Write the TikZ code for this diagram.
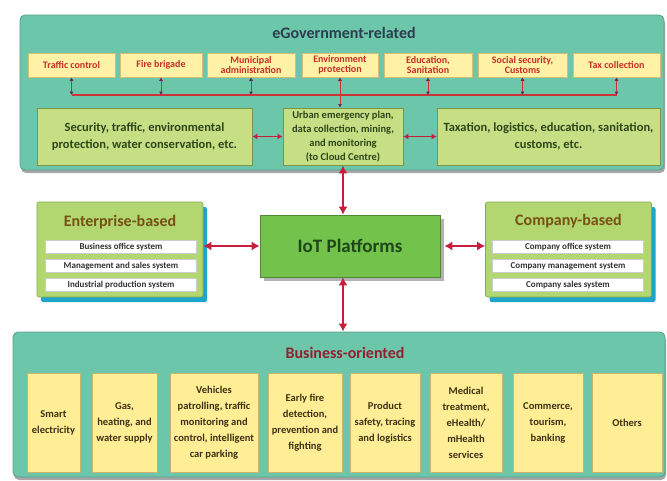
\documentclass[tikz,border=0pt]{standalone}
\usepackage{fontspec}
\setmainfont{Carlito}
\usetikzlibrary{arrows.meta,shadows}

\definecolor{panelteal}{RGB}{108,198,170}
\definecolor{panelline}{RGB}{85,160,140}
\definecolor{tabyellow}{RGB}{255,241,165}
\definecolor{tabline}{RGB}{215,190,120}
\definecolor{tabred}{RGB}{200,45,40}
\definecolor{areagreen}{RGB}{198,222,132}
\definecolor{arealine}{RGB}{120,150,70}
\definecolor{areatext}{RGB}{45,70,25}
\definecolor{sidegreen}{RGB}{178,214,112}
\definecolor{sideline}{RGB}{130,170,80}
\definecolor{sidecyan}{RGB}{30,165,205}
\definecolor{iotgreen}{RGB}{115,194,75}
\definecolor{iottext}{RGB}{30,70,25}
\definecolor{rowtext}{RGB}{50,50,50}
\definecolor{fieldyellow}{RGB}{255,238,150}
\definecolor{fieldline}{RGB}{200,180,110}
\definecolor{fieldtext}{RGB}{60,50,20}
\definecolor{linkred}{RGB}{200,30,60}
\definecolor{busred}{RGB}{205,50,55}
\definecolor{tickpurple}{RGB}{110,35,90}
\definecolor{govtitle}{RGB}{45,60,80}
\definecolor{bustitle}{RGB}{150,30,50}
\definecolor{sidetitle}{RGB}{120,80,20}

\tikzset{
  panelbox/.style={rectangle, rounded corners=5pt, fill=panelteal, draw=panelline, line width=0.8pt,
    drop shadow={shadow xshift=1pt, shadow yshift=-3pt, fill=gray!70, opacity=1}},
  tabbox/.style={rectangle, fill=tabyellow, draw=tabline, line width=0.6pt, inner sep=0pt,
    align=center, text=tabred, font=\fontsize{10}{10.5}\selectfont\bfseries},
  areabox/.style={rectangle, fill=areagreen, draw=arealine, line width=0.8pt, inner sep=0pt,
    align=center, text=areatext, minimum height=57pt},
  sidebox/.style={rectangle, rounded corners=2pt, fill=sidegreen, draw=sideline, line width=0.6pt,
    minimum width=166pt, minimum height=95pt,
    drop shadow={shadow xshift=4pt, shadow yshift=-5pt, fill=sidecyan, opacity=1}},
  sidetitlebox/.style={font=\fontsize{16}{18}\selectfont\bfseries, text=sidetitle},
  sysrow/.style={rectangle, fill=white, draw=gray!40, inner sep=0pt, minimum width=151pt,
    minimum height=13pt, font=\fontsize{9}{10}\selectfont\bfseries, text=rowtext},
  fieldbox/.style={rectangle, fill=fieldyellow, draw=fieldline, line width=0.6pt, inner sep=0pt,
    align=center, minimum height=99pt, font=\fontsize{10.5}{16}\selectfont\bfseries, text=fieldtext},
  biarrow/.style={draw=linkred, line width=2.2pt, {Latex[length=8pt,width=9pt]}-{Latex[length=8pt,width=9pt]}},
  smallbiarrow/.style={draw=linkred, line width=1.6pt, {Latex[length=5pt,width=6pt]}-{Latex[length=5pt,width=6pt]}},
  busline/.style={draw=busred, line width=1.2pt},
  busarrow/.style={draw=busred, line width=1pt,
    {Latex[length=3.5pt,width=4pt,color=tickpurple]}-{Latex[length=3.5pt,width=4pt,color=tickpurple]}}
}

\begin{document}
\begin{tikzpicture}[x=1pt,y=-1pt]
    \useasboundingbox (0,0) rectangle (667,480);

    % eGovernment panel
    \node[panelbox, minimum width=644pt, minimum height=155pt] at (342,92.5) (gov) {};
    \node[font=\fontsize{16}{18}\selectfont\bfseries, text=govtitle] at (344,33) (govtitle) {eGovernment-related};
    \node[tabbox, minimum width=87pt, minimum height=24pt] at (71.5,65) (TC) {Traffic control};
    \node[tabbox, minimum width=82pt, minimum height=24pt] at (161,65) (FB) {Fire brigade};
    \node[tabbox, minimum width=88pt, minimum height=24pt] at (251,65) (MA) {Municipal\\administration};
    \node[tabbox, minimum width=76pt, minimum height=24pt] at (340,65) (EP) {Environment\\protection};
    \node[tabbox, minimum width=88pt, minimum height=24pt] at (428,65) (ES) {Education,\\Sanitation};
    \node[tabbox, minimum width=89pt, minimum height=24pt] at (522.5,65) (SC) {Social security,\\Customs};
    \node[tabbox, minimum width=87pt, minimum height=24pt] at (616.5,65) (TX) {Tax collection};
    \coordinate (bus) at (0,95);
    \draw[busline] (TC.south |- bus) -- (TX.south |- bus);
    \foreach \t in {TC,FB,MA,ES,SC,TX}
        \path (\t.south |- bus) edge[busarrow] (\t.south);

    \node[areabox, minimum width=215pt, font=\fontsize{12.5}{17}\selectfont\bfseries] at (144.5,136.5) (SE)
        {Security, traffic, environmental\\protection, water conservation, etc.};
    \node[areabox, minimum width=120pt, font=\fontsize{10.5}{14}\selectfont\bfseries] at (343,136.5) (UE)
        {Urban emergency plan,\\data collection, mining,\\and monitoring\\(to Cloud Centre)};
    \node[areabox, minimum width=223pt, font=\fontsize{12.5}{17}\selectfont\bfseries] at (548.5,136.5) (TL)
        {Taxation, logistics, education, sanitation,\\customs, etc.};
    \path (EP.south) edge[busarrow] (EP.south |- UE.north);
    \path (SE) edge[smallbiarrow] (UE);
    \path (UE) edge[smallbiarrow] (TL);

    % middle row
    \node[rectangle, fill=iotgreen, draw=iotgreen!70!black, line width=0.6pt, minimum width=180pt, minimum height=62pt,
        drop shadow={shadow xshift=4pt, shadow yshift=-4pt, fill=gray!60, opacity=1},
        font=\fontsize{19}{22}\selectfont\bfseries, text=iottext] at (350,246) (IoT) {IoT Platforms};
    \path (UE.south) edge[biarrow] (UE.south |- IoT.north);

    \node[sidebox] at (120,249.5) (EB) {};
    \node[sidetitlebox] at (120,222) (EBtitle) {Enterprise-based};
    \node[sysrow] at (121,247) (EB1) {Business office system};
    \node[sysrow] at (121,266) (EB2) {Management and sales system};
    \node[sysrow] at (121,285) (EB3) {Industrial production system};

    \node[sidebox] at (568.5,249.5) (CB) {};
    \node[sidetitlebox] at (568.5,221) (CBtitle) {Company-based};
    \node[sysrow] at (568,247) (CB1) {Company office system};
    \node[sysrow] at (568,266) (CB2) {Company management system};
    \node[sysrow] at (568,285) (CB3) {Company sales system};

    \path (IoT.west) edge[biarrow] (IoT.west -| EB.east);
    \path (IoT.east) ++(4,0) coordinate (IoTr) edge[biarrow] (IoTr -| CB.west);

    % Business panel
    \node[panelbox, minimum width=652pt, minimum height=145pt] at (339,404.5) (biz) {};
    \node[font=\fontsize{16}{18}\selectfont\bfseries, text=bustitle] at (345,353) (biztitle) {Business-oriented};
    \node[fieldbox, minimum width=53pt] at (53.5,422.5) (F1) {Smart\\electricity};
    \node[fieldbox, minimum width=65pt] at (124.5,422.5) (F2) {Gas,\\heating, and\\water supply};
    \node[fieldbox, minimum width=88pt] at (214,422.5) (F3) {Vehicles\\patrolling, traffic\\monitoring and\\control, intelligent\\car parking};
    \node[fieldbox, minimum width=74pt] at (305,422.5) (F4) {Early fire\\detection,\\prevention and\\fighting};
    \node[fieldbox, minimum width=70pt] at (385,422.5) (F5) {Product\\safety, tracing\\and logistics};
    \node[fieldbox, minimum width=72pt] at (466,422.5) (F6) {Medical\\treatment,\\eHealth/\\mHealth\\services};
    \node[fieldbox, minimum width=70pt] at (548,422.5) (F7) {Commerce,\\tourism,\\banking};
    \node[fieldbox, minimum width=70pt] at (627,422.5) (F8) {Others};
    \path (UE.south |- IoT.south) edge[biarrow] (UE.south |- biz.north);
\end{tikzpicture}
\end{document}
